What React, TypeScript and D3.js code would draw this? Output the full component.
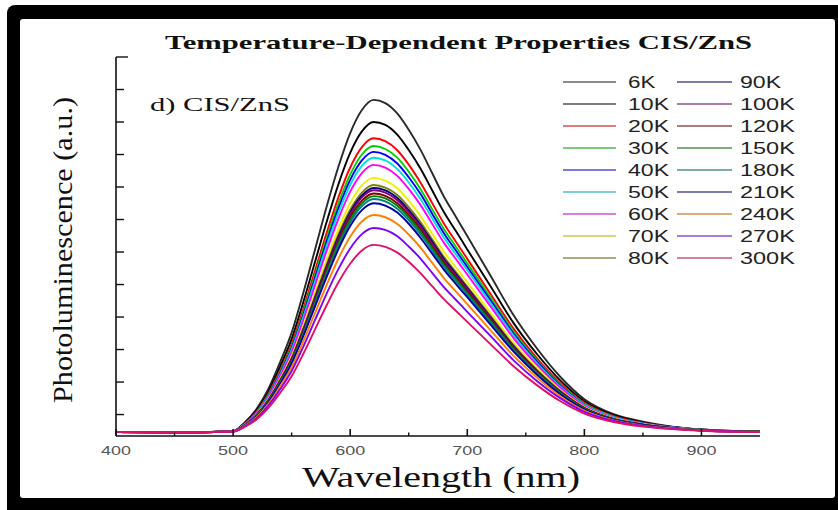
import React from 'react';
import * as d3 from 'd3';

const wavelengths = [400, 450, 500, 510, 520, 530, 540, 550, 560, 570, 580, 590, 600, 610, 620, 630, 640, 650, 660, 670, 680, 690, 700, 720, 740, 760, 780, 800, 825, 850, 875, 900, 950];

const temperatures = ['6K', '10K', '20K', '30K', '40K', '50K', '60K', '70K', '80K', '90K', '100K', '120K', '150K', '180K', '210K', '240K', '270K', '300K'];

const seriesColors = ['#2a2a2a', '#000000', '#ff0000', '#00d000', '#0000ff', '#00e0e0', '#ff00ff', '#f0f000', '#808000', '#000080', '#800080', '#800000', '#008000', '#008080', '#0000a0', '#ff8000', '#8000ff', '#e0106a'];

const pl6K = [0.46, 0.45, 0.49, 0.76, 1.17, 1.78, 2.6, 3.52, 4.75, 6.08, 7.41, 8.63, 9.66, 10.37, 10.68, 10.58, 10.27, 9.76, 9.15, 8.43, 7.71, 7.1, 6.49, 5.26, 4.03, 3.01, 2.14, 1.47, 1.01, 0.78, 0.63, 0.54, 0.47];
const pl10K = [0.46, 0.45, 0.49, 0.74, 1.12, 1.69, 2.46, 3.32, 4.46, 5.7, 6.94, 8.09, 9.05, 9.71, 10.0, 9.91, 9.62, 9.14, 8.57, 7.9, 7.23, 6.66, 6.08, 4.94, 3.79, 2.84, 2.03, 1.41, 0.98, 0.76, 0.62, 0.54, 0.47];
const pl20K = [0.46, 0.45, 0.49, 0.72, 1.08, 1.63, 2.35, 3.17, 4.25, 5.43, 6.6, 7.69, 8.6, 9.23, 9.5, 9.41, 9.14, 8.69, 8.14, 7.51, 6.88, 6.33, 5.79, 4.7, 3.62, 2.71, 1.94, 1.36, 0.95, 0.74, 0.61, 0.53, 0.47];
const pl30K = [0.46, 0.45, 0.49, 0.71, 1.07, 1.6, 2.3, 3.09, 4.15, 5.3, 6.44, 7.5, 8.38, 9.0, 9.26, 9.17, 8.91, 8.47, 7.94, 7.32, 6.71, 6.18, 5.65, 4.59, 3.53, 2.65, 1.9, 1.33, 0.93, 0.73, 0.61, 0.53, 0.47];
const pl40K = [0.46, 0.45, 0.49, 0.71, 1.05, 1.57, 2.26, 3.04, 4.07, 5.2, 6.32, 7.35, 8.22, 8.82, 9.08, 8.99, 8.73, 8.3, 7.79, 7.18, 6.58, 6.06, 5.54, 4.51, 3.47, 2.61, 1.87, 1.31, 0.92, 0.73, 0.61, 0.53, 0.47];
const pl50K = [0.46, 0.45, 0.49, 0.7, 1.04, 1.55, 2.22, 2.99, 4.0, 5.1, 6.2, 7.21, 8.06, 8.65, 8.9, 8.82, 8.56, 8.14, 7.63, 7.04, 6.45, 5.94, 5.44, 4.42, 3.41, 2.56, 1.84, 1.3, 0.92, 0.72, 0.6, 0.53, 0.47];
const pl60K = [0.46, 0.45, 0.49, 0.7, 1.03, 1.52, 2.18, 2.92, 3.91, 4.98, 6.05, 7.03, 7.86, 8.43, 8.68, 8.6, 8.35, 7.94, 7.45, 6.87, 6.29, 5.8, 5.31, 4.32, 3.33, 2.51, 1.81, 1.27, 0.9, 0.71, 0.6, 0.52, 0.47];
const pl70K = [0.46, 0.45, 0.49, 0.69, 1.0, 1.47, 2.09, 2.8, 3.74, 4.76, 5.77, 6.71, 7.5, 8.05, 8.28, 8.2, 7.97, 7.58, 7.11, 6.56, 6.01, 5.54, 5.07, 4.13, 3.19, 2.41, 1.74, 1.23, 0.88, 0.7, 0.59, 0.52, 0.47];
const pl80K = [0.46, 0.45, 0.48, 0.68, 0.98, 1.44, 2.05, 2.73, 3.65, 4.64, 5.63, 6.54, 7.3, 7.83, 8.06, 7.98, 7.76, 7.38, 6.92, 6.39, 5.85, 5.4, 4.94, 4.03, 3.11, 2.35, 1.71, 1.21, 0.87, 0.69, 0.59, 0.52, 0.47];
const pl90K = [0.46, 0.45, 0.48, 0.68, 0.98, 1.43, 2.03, 2.71, 3.61, 4.59, 5.56, 6.47, 7.22, 7.74, 7.97, 7.9, 7.67, 7.29, 6.84, 6.32, 5.79, 5.34, 4.89, 3.98, 3.08, 2.33, 1.69, 1.2, 0.86, 0.69, 0.59, 0.52, 0.47];
const pl100K = [0.46, 0.45, 0.48, 0.67, 0.97, 1.42, 2.01, 2.69, 3.58, 4.55, 5.52, 6.41, 7.16, 7.68, 7.9, 7.83, 7.6, 7.23, 6.78, 6.26, 5.74, 5.29, 4.85, 3.95, 3.06, 2.31, 1.68, 1.2, 0.86, 0.69, 0.58, 0.52, 0.47];
const pl120K = [0.46, 0.45, 0.48, 0.67, 0.96, 1.41, 1.99, 2.66, 3.54, 4.49, 5.45, 6.33, 7.07, 7.58, 7.8, 7.73, 7.51, 7.14, 6.7, 6.18, 5.67, 5.23, 4.79, 3.9, 3.02, 2.29, 1.66, 1.19, 0.85, 0.69, 0.58, 0.52, 0.47];
const pl150K = [0.46, 0.45, 0.48, 0.67, 0.96, 1.4, 1.98, 2.63, 3.5, 4.45, 5.39, 6.27, 6.99, 7.5, 7.72, 7.65, 7.43, 7.07, 6.63, 6.12, 5.61, 5.18, 4.74, 3.87, 3.0, 2.27, 1.65, 1.18, 0.85, 0.68, 0.58, 0.52, 0.47];
const pl180K = [0.46, 0.45, 0.48, 0.67, 0.95, 1.38, 1.96, 2.6, 3.47, 4.4, 5.33, 6.19, 6.91, 7.41, 7.63, 7.56, 7.34, 6.98, 6.55, 6.05, 5.55, 5.12, 4.69, 3.82, 2.96, 2.25, 1.63, 1.17, 0.84, 0.68, 0.58, 0.51, 0.46];
const pl210K = [0.46, 0.45, 0.48, 0.66, 0.94, 1.37, 1.93, 2.57, 3.41, 4.33, 5.24, 6.09, 6.8, 7.29, 7.5, 7.43, 7.22, 6.87, 6.44, 5.95, 5.46, 5.03, 4.61, 3.76, 2.92, 2.21, 1.61, 1.16, 0.84, 0.68, 0.58, 0.51, 0.46];
const pl240K = [0.46, 0.45, 0.48, 0.65, 0.92, 1.32, 1.86, 2.46, 3.26, 4.13, 5.0, 5.8, 6.47, 6.94, 7.14, 7.07, 6.87, 6.54, 6.14, 5.67, 5.2, 4.8, 4.4, 3.59, 2.79, 2.12, 1.55, 1.12, 0.82, 0.66, 0.57, 0.51, 0.46];
const pl270K = [0.46, 0.45, 0.48, 0.64, 0.89, 1.27, 1.77, 2.34, 3.09, 3.91, 4.73, 5.48, 6.11, 6.55, 6.74, 6.68, 6.49, 6.17, 5.8, 5.36, 4.92, 4.54, 4.16, 3.41, 2.65, 2.02, 1.49, 1.08, 0.8, 0.65, 0.56, 0.51, 0.46];
const pl300K = [0.46, 0.45, 0.48, 0.62, 0.85, 1.2, 1.66, 2.18, 2.87, 3.62, 4.37, 5.07, 5.64, 6.05, 6.22, 6.16, 5.99, 5.7, 5.35, 4.95, 4.55, 4.2, 3.85, 3.16, 2.47, 1.89, 1.4, 1.03, 0.77, 0.63, 0.55, 0.5, 0.46];

const seriesValues = [pl6K, pl10K, pl20K, pl30K, pl40K, pl50K, pl60K, pl70K, pl80K, pl90K, pl100K, pl120K, pl150K, pl180K, pl210K, pl240K, pl270K, pl300K];

const xMajorTicks = [400, 500, 600, 700, 800, 900];
const xMinorTicks = [450, 550, 650, 750, 850];
const yTicks = [1, 2, 3, 4, 5, 6, 7, 8, 9, 10, 11, 12];

const titleText = 'Temperature-Dependent Properties CIS/ZnS';
const panelLabel = 'd) CIS/ZnS';
const xLabel = 'Wavelength (nm)';
const yLabel = 'Photoluminescence (a.u.)';

export default function App() {
  const W = 838;
  const H = 510;
  const x = d3.scaleLinear().domain([400, 950]).range([116, 760]);
  const y = d3.scaleLinear().domain([0.34, 12]).range([436, 57]);
  const line = d3
    .line<number>()
    .x((_, i) => x(wavelengths[i]))
    .y((d) => y(d))
    .curve(d3.curveMonotoneX);

  const serif = "'Liberation Serif', 'Times New Roman', serif";
  const sans = "'Liberation Sans', Arial, sans-serif";

  const legendRows = 9;
  const legendY0 = 82;
  const legendDy = 22;
  const fade = (c: string) => d3.interpolateRgb(c, '#a0a0a0')(0.5);

  return (
    <svg
      width={W}
      height={H}
      viewBox={`0 0 ${W} ${H}`}
      style={{ position: 'absolute', left: 0, top: 0, background: '#ffffff' }}
    >
      <rect x={0} y={0} width={W} height={H} fill="#ffffff" />
      <rect x={7} y={5} width={W + 10} height={H + 10} rx={8} fill="#000000" />
      <rect x={20} y={19} width={815} height={479} rx={3} fill="#ffffff" />

      {/* title */}
      <text
        x={165}
        y={49}
        fontFamily={serif}
        fontWeight="bold"
        fontSize={19}
        textLength={587}
        lengthAdjust="spacingAndGlyphs"
        fill="#111"
      >
        {titleText}
      </text>

      {/* curves */}
      <g fill="none" strokeWidth={1.9} strokeLinejoin="round">
        {seriesValues.map((vals, i) => (
          <path key={temperatures[i]} d={line(vals) || ''} stroke={seriesColors[i]} />
        ))}
      </g>

      {/* axes */}
      <g stroke="#111" fill="none">
        <line x1={x(400)} x2={x(400)} y1={y(12)} y2={y(0.34)} strokeWidth={1.6} />
        <line x1={x(400)} x2={x(950)} y1={y(0.34)} y2={y(0.34)} strokeWidth={1.6} />
        {yTicks.map((t) => (
          <line
            key={'yt' + t}
            x1={x(400)}
            x2={x(400) + (t === 12 ? 12 : 8)}
            y1={y(t)}
            y2={y(t)}
            strokeWidth={1.4}
          />
        ))}
        {xMajorTicks.map((t) => (
          <line key={'xm' + t} x1={x(t)} x2={x(t)} y1={y(0.34)} y2={y(0.34) - 7} strokeWidth={1.6} />
        ))}
        {xMinorTicks.map((t) => (
          <line key={'xn' + t} x1={x(t)} x2={x(t)} y1={y(0.34)} y2={y(0.34) - 3.5} strokeWidth={1.4} />
        ))}
      </g>

      {/* x tick labels */}
      {xMajorTicks.map((t) => (
        <text
          key={'xl' + t}
          x={x(t)}
          y={455}
          textAnchor="middle"
          fontFamily={sans}
          fontSize={13}
          textLength={30}
          lengthAdjust="spacingAndGlyphs"
          fill="#555"
        >
          {t}
        </text>
      ))}

      {/* axis titles */}
      <text
        x={441}
        y={487}
        textAnchor="middle"
        fontFamily={serif}
        fontSize={29}
        textLength={278}
        lengthAdjust="spacingAndGlyphs"
        fill="#111"
      >
        {xLabel}
      </text>
      <text
        transform="translate(72,250) rotate(-90)"
        textAnchor="middle"
        fontFamily={serif}
        fontSize={27}
        textLength={306}
        lengthAdjust="spacingAndGlyphs"
        fill="#111"
      >
        {yLabel}
      </text>

      <text
        x={150}
        y={111}
        fontFamily={serif}
        fontSize={18}
        textLength={140}
        lengthAdjust="spacingAndGlyphs"
        fill="#111"
      >
        {panelLabel}
      </text>

      {/* legend */}
      {temperatures.map((t, i) => {
        const col = Math.floor(i / legendRows);
        const row = i % legendRows;
        const yy = legendY0 + row * legendDy;
        const lx1 = col === 0 ? 563 : 677;
        const lx2 = col === 0 ? 616 : 732;
        const tx = col === 0 ? 628 : 740;
        return (
          <g key={'lg' + t}>
            <line x1={lx1} x2={lx2} y1={yy} y2={yy} stroke={fade(seriesColors[i])} strokeWidth={1.3} />
            <text
              x={tx}
              y={yy + 6}
              fontFamily={sans}
              fontSize={16}
              textLength={t.length * 13.7}
              lengthAdjust="spacingAndGlyphs"
              fill="#222"
            >
              {t}
            </text>
          </g>
        );
      })}
    </svg>
  );
}
